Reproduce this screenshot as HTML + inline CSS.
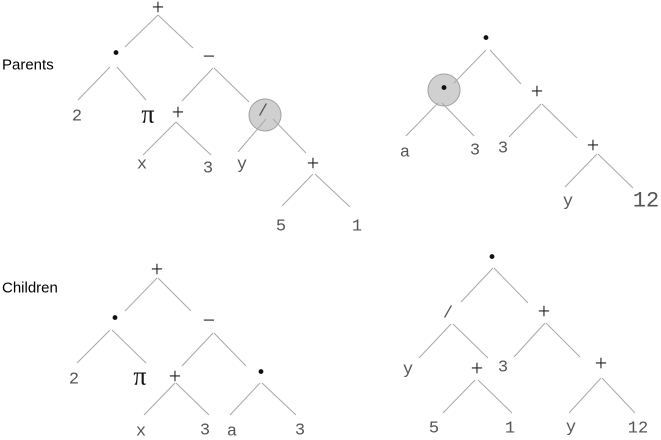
<!DOCTYPE html>
<html><head><meta charset="utf-8"><style>
html,body{margin:0;padding:0;background:#fff;}
svg{display:block;}
.e{stroke:#a8a8a8;stroke-width:1;}
.lf{font-family:"Liberation Mono",monospace;font-size:17px;fill:#555;}
.op{font-family:"Liberation Serif",serif;font-size:22px;fill:#222;}
.dt{font-family:"Liberation Serif",serif;font-size:30px;font-weight:bold;fill:#111;}
.pi{font-family:"Liberation Serif",serif;font-size:26px;fill:#111;}
.lb{font-family:"Liberation Sans",sans-serif;font-size:15px;fill:#000;}
</style></head><body>
<svg width="661" height="440" viewBox="0 0 661 440" text-anchor="middle" dominant-baseline="central">
<text class="lb" x="2" y="65" text-anchor="start">Parents</text>
<text class="lb" x="2" y="288" text-anchor="start">Children</text>

<g>
<circle cx="265" cy="115" r="16" fill="#d0d0d0" stroke="#a0a0a0"/>
<line class="e" x1="158" y1="15" x2="125" y2="47"/><line class="e" x1="158" y1="15" x2="193" y2="48"/>
<line class="e" x1="110" y1="67" x2="78" y2="100"/><line class="e" x1="117" y1="67" x2="146" y2="100"/>
<line class="e" x1="213" y1="68" x2="182" y2="101"/><line class="e" x1="214" y1="68" x2="249" y2="102"/>
<line class="e" x1="176" y1="122" x2="143" y2="155"/><line class="e" x1="176" y1="122" x2="211" y2="155"/>
<line class="e" x1="266" y1="119" x2="238" y2="152"/><line class="e" x1="273" y1="119" x2="306" y2="153"/>
<line class="e" x1="313" y1="174" x2="282" y2="206"/><line class="e" x1="315" y1="174" x2="350" y2="207"/>
<text class="op" x="158" y="7">+</text>
<text class="dt" x="116" y="53">·</text>
<text class="op" x="209" y="56">−</text>
<text class="lf" x="77" y="117">2</text>
<text class="pi" x="148" y="114">π</text>
<text class="op" x="178" y="112">+</text>
<text class="lf" x="263" y="112">/</text>
<text class="lf" x="142" y="165">x</text>
<text class="lf" x="208" y="169">3</text>
<text class="lf" x="242" y="165">y</text>
<text class="op" x="313" y="163">+</text>
<text class="lf" x="281" y="227">5</text>
<text class="lf" x="357" y="227">1</text>
</g>

<g>
<circle cx="444" cy="90" r="16" fill="#d0d0d0" stroke="#a0a0a0"/>
<line class="e" x1="486" y1="50" x2="454" y2="83"/><line class="e" x1="490" y1="50" x2="521" y2="84"/>
<line class="e" x1="438" y1="103" x2="406" y2="136"/><line class="e" x1="442" y1="103" x2="474" y2="136"/>
<line class="e" x1="541" y1="104" x2="509" y2="137"/><line class="e" x1="542" y1="104" x2="577" y2="138"/>
<line class="e" x1="597" y1="154" x2="565" y2="187"/><line class="e" x1="598" y1="154" x2="633" y2="188"/>
<text class="dt" x="486" y="38">·</text>
<text class="dt" x="444" y="88">·</text>
<text class="op" x="537" y="91">+</text>
<text class="lf" x="405" y="153">a</text>
<text class="lf" x="475" y="151">3</text>
<text class="lf" x="503" y="149">3</text>
<text class="op" x="593" y="145">+</text>
<text class="lf" x="568" y="202">y</text>
<text class="lf" x="646" y="201" style="font-size:22px">12</text>
</g>

<g>
<line class="e" x1="157" y1="278" x2="125" y2="311"/><line class="e" x1="158" y1="278" x2="191" y2="311"/>
<line class="e" x1="110" y1="330" x2="77" y2="363"/><line class="e" x1="112" y1="330" x2="146" y2="363"/>
<line class="e" x1="213" y1="333" x2="182" y2="366"/><line class="e" x1="214" y1="333" x2="246" y2="366"/>
<line class="e" x1="175" y1="383" x2="144" y2="415"/><line class="e" x1="176" y1="383" x2="209" y2="415"/>
<line class="e" x1="260" y1="383" x2="230" y2="415"/><line class="e" x1="262" y1="383" x2="296" y2="415"/>
<text class="op" x="157" y="269">+</text>
<text class="dt" x="115" y="318">·</text>
<text class="op" x="209" y="320">−</text>
<text class="lf" x="74" y="380">2</text>
<text class="pi" x="140" y="376">π</text>
<text class="op" x="175" y="376">+</text>
<text class="dt" x="261" y="372">·</text>
<text class="lf" x="141" y="432">x</text>
<text class="lf" x="205" y="431">3</text>
<text class="lf" x="232" y="432">a</text>
<text class="lf" x="300" y="431">3</text>
</g>

<g>
<line class="e" x1="493" y1="268" x2="461" y2="302"/><line class="e" x1="494" y1="268" x2="528" y2="303"/>
<line class="e" x1="451" y1="324" x2="419" y2="358"/><line class="e" x1="453" y1="324" x2="488" y2="358"/>
<line class="e" x1="545" y1="323" x2="514" y2="357"/><line class="e" x1="546" y1="323" x2="580" y2="357"/>
<line class="e" x1="475" y1="380" x2="443" y2="413"/><line class="e" x1="478" y1="380" x2="512" y2="413"/>
<line class="e" x1="601" y1="378" x2="569" y2="413"/><line class="e" x1="602" y1="378" x2="635" y2="413"/>
<text class="dt" x="492" y="257">·</text>
<text class="lf" x="448" y="314">/</text>
<text class="op" x="544" y="311">+</text>
<text class="lf" x="408" y="370">y</text>
<text class="op" x="477" y="368">+</text>
<text class="lf" x="503" y="368">3</text>
<text class="op" x="601" y="363">+</text>
<text class="lf" x="434" y="429">5</text>
<text class="lf" x="510" y="429">1</text>
<text class="lf" x="571" y="428">y</text>
<text class="lf" x="638" y="429">12</text>
</g>
</svg>
</body></html>
